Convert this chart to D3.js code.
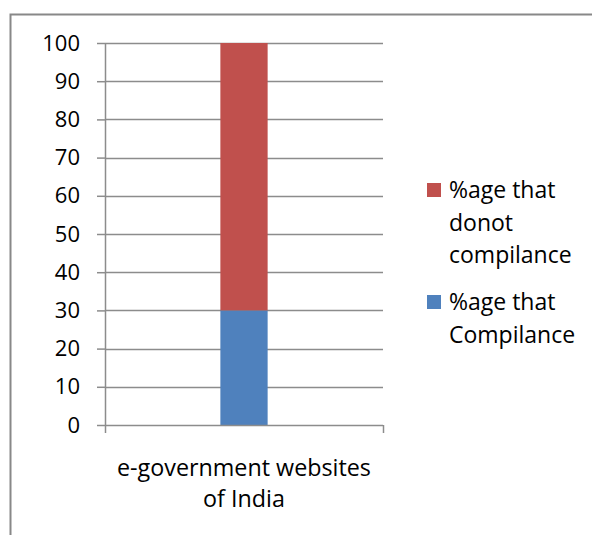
<!DOCTYPE html>
<html>
<head>
<meta charset="utf-8">
<script src="https://cdn.jsdelivr.net/npm/d3@7"></script>
<style>
  body { margin: 0; background: #fff; }
  text { font-family: "Open Sans", sans-serif; fill: #000; }
</style>
</head>
<body>
<div id="chart"></div>
<script>
var categories = ["e-government websites of India"];
var seriesNames = ["%age that Compilance", "%age that donot compilance"];
var compliance = [30];
var nonCompliance = [70];
var yTicks = [0, 10, 20, 30, 40, 50, 60, 70, 80, 90, 100];

var W = 592, H = 535;
var margin = {top: 43, left: 105, right: 209, bottom: 110};
var width = W - margin.left - margin.right,
    height = H - margin.top - margin.bottom;

var svg = d3.select("#chart").append("svg")
    .attr("width", W)
    .attr("height", H);

// outer frame (only top and left visible in the picture)
svg.append("rect")
    .attr("x", 10.5).attr("y", 14.5)
    .attr("width", 700).attr("height", 700)
    .attr("fill", "none")
    .attr("stroke", "#888")
    .attr("stroke-width", 2);

var g = svg.append("g").attr("transform", "translate(" + margin.left + "," + margin.top + ")");

var x = d3.scaleBand().domain(categories).range([0, width]).paddingInner(0.83).paddingOuter(0.415);
var y = d3.scaleLinear().domain([0, 100]).range([height, 0]);
var color = d3.scaleOrdinal().domain(seriesNames).range(["#4F81BD", "#C0504D"]);

var data = categories.map(function(c, i) {
  var d = {cat: c};
  d[seriesNames[0]] = compliance[i];
  d[seriesNames[1]] = nonCompliance[i];
  return d;
});
var stacked = d3.stack().keys(seriesNames)(data);

// gridlines
g.append("g")
  .selectAll("line")
  .data(yTicks.slice(1))
  .enter().append("line")
    .attr("x1", 0).attr("x2", width)
    .attr("y1", function(d) { return Math.round(y(d)) + 0.5; })
    .attr("y2", function(d) { return Math.round(y(d)) + 0.5; })
    .attr("stroke", "#8c8c8c")
    .attr("stroke-width", 1.5);

// bars
g.append("g")
  .selectAll("g")
  .data(stacked)
  .enter().append("g")
    .attr("fill", function(d) { return color(d.key); })
  .selectAll("rect")
  .data(function(d) { return d; })
  .enter().append("rect")
    .attr("x", function(d) { return x(d.data.cat); })
    .attr("y", function(d) { return y(d[1]); })
    .attr("height", function(d) { return y(d[0]) - y(d[1]); })
    .attr("width", x.bandwidth());

// y axis
var yAxis = g.append("g")
    .call(d3.axisLeft(y).tickValues(yTicks).tickSize(8).tickPadding(17));
yAxis.select(".domain").attr("stroke", "#8c8c8c").attr("stroke-width", 1.5).attr("d", "M0.5," + height + "V0");
yAxis.selectAll(".tick line").attr("stroke", "#8c8c8c").attr("stroke-width", 1.5);
yAxis.selectAll(".tick text").style("font-size", "22px").style("font-family", "Open Sans");

// x axis
var xAxis = g.append("g")
    .attr("transform", "translate(0," + height + ")")
    .call(d3.axisBottom(d3.scaleLinear().domain([0, 1]).range([0, width])).tickValues([0, 1]).tickSize(8).tickFormat(""));
xAxis.select(".domain").attr("stroke", "#8c8c8c").attr("stroke-width", 1.5).attr("d", "M0," + 0.5 + "H" + width);
xAxis.selectAll(".tick line").attr("stroke", "#8c8c8c").attr("stroke-width", 1.5);

// category label, wrapped on two lines
var catLabel = g.append("text")
    .attr("text-anchor", "middle")
    .style("font-size", "23.3px")
    .attr("transform", "translate(" + (x(categories[0]) + x.bandwidth() / 2) + "," + (height + 51) + ")");
catLabel.append("tspan").attr("x", 0).attr("dy", 0).text("e-government websites");
catLabel.append("tspan").attr("x", 0).attr("dy", 31).text("of India");

// legend
var legendItems = [
  {key: seriesNames[1], lines: ["%age that", "donot", "compilance"], y: 183},
  {key: seriesNames[0], lines: ["%age that", "Compilance"], y: 295}
];
var legend = svg.append("g").selectAll("g")
  .data(legendItems)
  .enter().append("g")
    .attr("transform", function(d) { return "translate(427," + d.y + ")"; });

legend.append("rect")
    .attr("width", 14).attr("height", 14)
    .attr("fill", function(d) { return color(d.key); });

legend.append("text")
    .style("font-size", "23px")
    .attr("x", 22)
    .attr("y", 15)
  .selectAll("tspan")
  .data(function(d) { return d.lines; })
  .enter().append("tspan")
    .attr("x", 22)
    .attr("dy", function(d, i) { return i === 0 ? 0 : 32.5; })
    .text(function(d) { return d; });
</script>
</body>
</html>
